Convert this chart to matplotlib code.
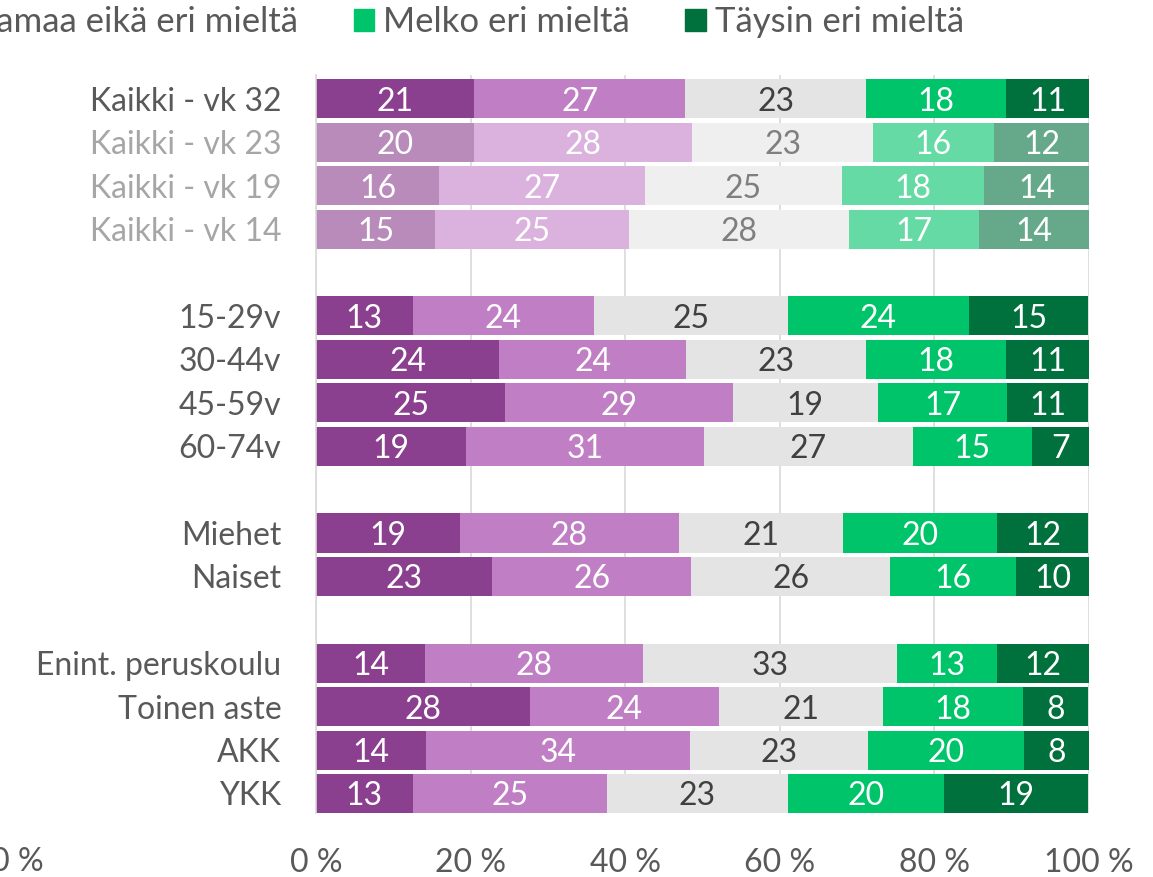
import matplotlib.pyplot as plt
from matplotlib.patches import Patch

# rivien nimet ylhäältä alas (None = tyhjä väli)
rivit = ["Kaikki - vk 32", "Kaikki - vk 23", "Kaikki - vk 19", "Kaikki - vk 14", None,
         "15-29v", "30-44v", "45-59v", "60-74v", None,
         "Miehet", "Naiset", None,
         "Enint. peruskoulu", "Toinen aste", "AKK", "YKK"]

# haalennetut (aiemmat mittaukset)
haalea = ["Kaikki - vk 23", "Kaikki - vk 19", "Kaikki - vk 14"]

sarjat = ["Täysin samaa mieltä", "Melko samaa mieltä", "Ei samaa eikä eri mieltä",
          "Melko eri mieltä", "Täysin eri mieltä"]

# osuudet (%) luettu kuvasta, järjestys kuten rivit ilman tyhjiä
taysin_samaa = [20.5, 20.4, 15.9, 15.4, 12.5, 23.7, 24.5, 19.4, 18.6, 22.8, 14.1, 27.7, 14.2, 12.5]
melko_samaa = [27.3, 28.3, 26.7, 25.1, 23.5, 24.2, 29.4, 30.8, 28.3, 25.7, 28.2, 24.4, 34.2, 25.1]
ei_kumpikaan = [23.4, 23.3, 25.4, 28.4, 25.0, 23.2, 18.8, 27.0, 21.3, 25.8, 32.9, 21.3, 23.0, 23.4]
melko_eri = [18.1, 15.7, 18.4, 16.9, 23.5, 18.1, 16.7, 15.4, 19.9, 16.2, 12.9, 18.1, 20.2, 20.3]
taysin_eri = [10.7, 12.3, 13.7, 14.2, 15.4, 10.9, 10.5, 7.4, 11.8, 9.6, 11.9, 8.4, 8.4, 18.6]

xtikit = [0, 20, 40, 60, 80, 100]

varit = ["#8B3F8F", "#C07FC4", "#E4E4E4", "#00C46A", "#00703C"]
varit_haalea = ["#B98BBB", "#DBB2DD", "#EFEFEF", "#66DAA5", "#66A98A"]

plt.rcParams['font.family'] = ['Lato', 'DejaVu Sans']
koko = 23

fig = plt.figure(figsize=(11.53, 8.77), dpi=100)
ax = fig.add_axes([316 / 1153, 1 - 813 / 877, 773 / 1153, 738 / 877])

data = [taysin_samaa, melko_samaa, ei_kumpikaan, melko_eri, taysin_eri]
y_pos = [i for i, r in enumerate(rivit) if r is not None]
nimet = [r for r in rivit if r is not None]

for j, (y, nimi) in enumerate(zip(y_pos, nimet)):
    vasen = 0
    vari_lista = varit_haalea if nimi in haalea else varit
    for k in range(5):
        arvo = data[k][j]
        ax.barh(y, arvo, left=vasen, height=0.9, color=vari_lista[k], zorder=2)
        if k == 2:
            tekstivari = "#7F7F7F" if nimi in haalea else "#404040"
        else:
            tekstivari = "white"
        ax.text(vasen + arvo / 2, y, f"{int(arvo + 0.5)}", ha='center', va='center_baseline',
                color=tekstivari, fontsize=koko, zorder=3)
        vasen += arvo

ax.set_xlim(0, 100)
ax.set_ylim(16.45, -0.55)
ax.set_yticks(y_pos)
ax.set_xticks(xtikit)
ax.set_xticklabels([f"{t} %" for t in xtikit])
ax.tick_params(axis='both', length=0, labelsize=koko, colors="#595959", pad=25)
ylabels = ax.set_yticklabels(nimet)
for lbl, nimi in zip(ylabels, nimet):
    lbl.set_color("#A6A6A6" if nimi in haalea else "#595959")
ax.xaxis.grid(True, color="#D9D9D9", linewidth=1.2, zorder=0)
for s in ["top", "right", "bottom"]:
    ax.spines[s].set_visible(False)
ax.spines["left"].set_color("#D9D9D9")
ax.spines["left"].set_linewidth(1.2)

# edellisen kaavion akselin loppu näkyy vasemmassa reunassa
fig.text(44 / 1153, 1 - 862 / 877, "100 %", ha='right', va='center', fontsize=koko, color="#595959")

# selite, osittain kuvan ulkopuolella
kahvat = [Patch(color=c) for c in varit]
fig.legend(kahvat, sarjat, ncol=5, loc='upper right', bbox_to_anchor=(964 / 1153, 1 - 6 / 877),
           frameon=False, fontsize=25, handlelength=0.6, handleheight=0.6,
           handletextpad=0.25, columnspacing=1.6, labelcolor="#595959",
           borderaxespad=0, borderpad=0)

fig.savefig("out.png", dpi=100)
